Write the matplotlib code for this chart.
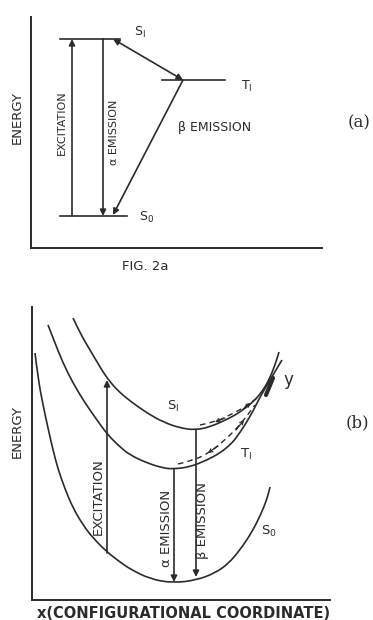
import matplotlib
matplotlib.use("Agg")
from matplotlib import pyplot as plt
from matplotlib.path import Path
from matplotlib.patches import PathPatch

# ---- (a) energy level diagram, units = px from axis origin ----
levels_a = {"S1": (29, 89, 209), "T1": (131, 194, 168), "S0": (29, 96, 32)}
excit_a_x = 41
alpha_a_x = 72
s1_t1 = [(82, 209), (152, 168)]
t1_s0 = [(152, 168), (82, 33)]

# ---- (b) configurational coordinate curves ----
s0_x = [3, 6, 11, 16, 21, 26, 33, 41, 51, 61, 75, 88, 98, 118, 141, 165, 183, 196, 208, 220, 229, 235, 238]
s0_y = [247, 222, 195, 172, 150, 131, 111, 92, 75, 62, 48, 38, 31, 21, 17, 20, 27, 36, 50, 68, 86, 101, 113]
t1_x = [16, 23, 31, 41, 53, 65, 75, 88, 98, 115, 131, 141, 158, 175, 188, 198, 205, 218, 228, 238, 250]
t1_y = [275, 257, 237, 217, 197, 180, 166, 153, 145, 137, 132, 131, 133, 140, 147, 155, 163, 183, 203, 220, 240]
s1_x = [41, 48, 58, 68, 75, 85, 98, 115, 131, 148, 163, 178, 198, 208, 220, 230, 238, 244, 247]
s1_y = [282, 267, 250, 233, 222, 210, 199, 187, 178, 172, 170, 173, 182, 188, 197, 208, 222, 238, 248]

excit_b = (75, 47, 220)
alpha_b = (142, 131, 18)
beta_b = (164, 170, 23)
dash_up_x = [168, 183, 198, 213, 225]
dash_up_y = [175, 178, 185, 193, 202]
dash_lo_x = [146, 163, 178, 193, 208, 223]
dash_lo_y = [136, 140, 148, 160, 175, 195]
cross_seg = [(234, 205), (241, 222)]

ink = "#2b2b2b"
lw = 1.2


def smooth_path(xs, ys):
    # quadratic bezier through midpoints, read points act as control points
    pts = list(zip(xs, ys))
    verts = [pts[0]]
    codes = [Path.MOVETO]
    for i in range(1, len(pts) - 1):
        mid = ((pts[i][0] + pts[i + 1][0]) / 2, (pts[i][1] + pts[i + 1][1]) / 2)
        verts += [pts[i], mid]
        codes += [Path.CURVE3, Path.CURVE3]
    verts.append(pts[-1])
    codes.append(Path.LINETO)
    return Path(verts, codes)


def draw_curve(axis, xs, ys, **kw):
    axis.add_patch(PathPatch(smooth_path(xs, ys), fill=False, **kw))


fig = plt.figure(figsize=(3.73, 6.2), dpi=100)

# panel (a)
ax = fig.add_axes([31/373, 0.6, 291/373, 231/620])
ax.set_xlim(0, 291)
ax.set_ylim(0, 231)
for name, (x0, x1, y) in levels_a.items():
    ax.plot([x0, x1], [y, y], color=ink, lw=lw)
arr = dict(arrowstyle="-|>", color=ink, lw=lw, mutation_scale=9, shrinkA=0, shrinkB=0)
ax.annotate("", xy=(excit_a_x, 209), xytext=(excit_a_x, 32), arrowprops=arr)
ax.annotate("", xy=(alpha_a_x, 32), xytext=(alpha_a_x, 209), arrowprops=arr)
ax.annotate("", xy=s1_t1[1], xytext=s1_t1[0],
            arrowprops=dict(arr, arrowstyle="<|-|>"))
ax.annotate("", xy=t1_s0[1], xytext=t1_s0[0], arrowprops=arr)
ax.text(109, 216, "S$_{\\rm I}$", fontsize=9, color=ink, ha="center", va="center")
ax.text(216, 162, "T$_{\\rm I}$", fontsize=9, color=ink, ha="center", va="center")
ax.text(116, 31, "S$_{\\rm 0}$", fontsize=9, color=ink, ha="center", va="center")
ax.text(31, 125, "EXCITATION", rotation=90, fontsize=8, color=ink, ha="center", va="center")
ax.text(83, 116, "\u03b1 EMISSION", rotation=90, fontsize=8, color=ink, ha="center", va="center")
ax.text(184, 120, "\u03b2 EMISSION", fontsize=9, color=ink, ha="center", va="center")
ax.set_xticks([])
ax.set_yticks([])
for s in ["top", "right"]:
    ax.spines[s].set_visible(False)
for s in ["left", "bottom"]:
    ax.spines[s].set_linewidth(1.4)
    ax.spines[s].set_color(ink)

fig.text(17/373, 1 - 117/620, "ENERGY", rotation=90, fontsize=9.5, color=ink, ha="center", va="center")
fig.text(145/373, 1 - 267/620, "FIG. 2a", fontsize=9.5, color=ink, ha="center", va="center")
fig.text(359/373, 1 - 123/620, "(a)", fontsize=12, family="DejaVu Serif", color=ink, ha="center", va="center")

# panel (b)
bx = fig.add_axes([32/373, 20/620, 298/373, 293/620])
bx.set_xlim(0, 298)
bx.set_ylim(0, 293)
draw_curve(bx, s0_x, s0_y, color=ink, lw=lw)
draw_curve(bx, t1_x, t1_y, color=ink, lw=lw)
draw_curve(bx, s1_x, s1_y, color=ink, lw=lw)
bx.annotate("", xy=(excit_b[0], excit_b[2]), xytext=(excit_b[0], excit_b[1]), arrowprops=arr)
bx.annotate("", xy=(alpha_b[0], alpha_b[2]), xytext=(alpha_b[0], alpha_b[1]), arrowprops=arr)
bx.annotate("", xy=(beta_b[0], beta_b[2]), xytext=(beta_b[0], beta_b[1]), arrowprops=arr)
draw_curve(bx, dash_up_x, dash_up_y, color=ink, lw=1.0, ls=(0, (4, 3)))
draw_curve(bx, dash_lo_x, dash_lo_y, color=ink, lw=1.0, ls=(0, (4, 3)))
small = dict(arrowstyle="->", color=ink, lw=0.9, mutation_scale=6, shrinkA=0, shrinkB=0)
bx.annotate("", xy=(183, 178), xytext=(193, 182), arrowprops=small)
bx.annotate("", xy=(219, 197), xytext=(211, 191), arrowprops=small)
bx.annotate("", xy=(176, 147), xytext=(186, 154), arrowprops=small)
bx.annotate("", xy=(212, 180), xytext=(204, 170), arrowprops=small)
bx.plot([p[0] for p in cross_seg], [p[1] for p in cross_seg], color=ink, lw=3, solid_capstyle="round")
bx.text(141, 194, "S$_{\\rm I}$", fontsize=9.5, color=ink, ha="center", va="center")
bx.text(214, 146, "T$_{\\rm I}$", fontsize=9.5, color=ink, ha="center", va="center")
bx.text(237, 69, "S$_{\\rm 0}$", fontsize=9.5, color=ink, ha="center", va="center")
bx.text(256, 220, "y", fontsize=12, color=ink, ha="center", va="center")
bx.text(66, 103, "EXCITATION", rotation=90, fontsize=9.5, color=ink, ha="center", va="center")
bx.text(135, 72, "\u03b1 EMISSION", rotation=90, fontsize=9.5, color=ink, ha="center", va="center")
bx.text(171, 79, "\u03b2 EMISSION", rotation=90, fontsize=9.5, color=ink, ha="center", va="center")
bx.set_xticks([])
bx.set_yticks([])
for s in ["top", "right"]:
    bx.spines[s].set_visible(False)
for s in ["left", "bottom"]:
    bx.spines[s].set_linewidth(1.4)
    bx.spines[s].set_color(ink)

fig.text(17/373, 1 - 432/620, "ENERGY", rotation=90, fontsize=9.5, color=ink, ha="center", va="center")
fig.text(184/373, 1 - 613/620, "x(CONFIGURATIONAL COORDINATE)", fontsize=10.5, weight="bold", color=ink, ha="center", va="center")
fig.text(357/373, 1 - 423/620, "(b)", fontsize=12, family="DejaVu Serif", color=ink, ha="center", va="center")

plt.savefig("out.png", dpi=100)
